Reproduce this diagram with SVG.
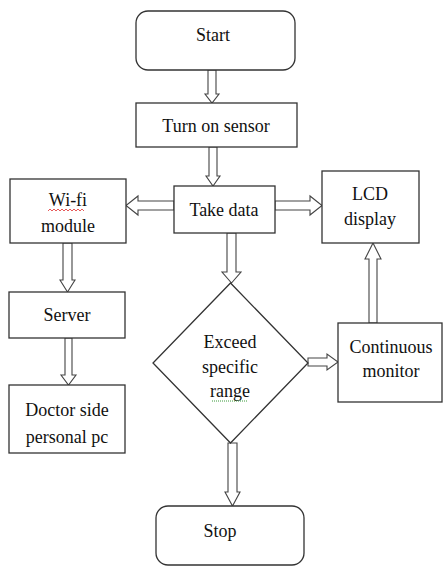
<svg xmlns="http://www.w3.org/2000/svg" width="443" height="566" viewBox="0 0 443 566">
<style>
.box{fill:#fff;stroke:#333;stroke-width:1.3}
.arr{fill:#fff;stroke:#444;stroke-width:1.1;stroke-linejoin:miter}
text{font-family:'Liberation Serif','Times New Roman',Times,serif;font-size:18px;fill:#111;text-anchor:middle}
</style>
<rect width="443" height="566" fill="#fff"/>
<g id="connectors">
<polygon class="arr" points="208,70 216,70 216,94 219,94 212,103 205,94 208,94"/>
<polygon class="arr" points="209,147 217,147 217,176 220,176 213,186 206,176 209,176"/>
<polygon class="arr" points="227,233 236,233 236,272 241,272 231.5,283 222,272 227,272"/>
<polygon class="arr" points="174,201 138,201 138,196 126,205.5 138,215 138,210 174,210"/>
<polygon class="arr" points="275,201 310,201 310,196 322,205.5 310,215 310,210 275,210"/>
<polygon class="arr" points="63,243 72,243 72,280 75,280 67.5,292 60,280 63,280"/>
<polygon class="arr" points="65,338 72,338 72,375 76,375 68.5,385 61,375 65,375"/>
<polygon class="arr" points="308,358 327,358 327,354 338,362 327,370 327,366 308,366"/>
<polygon class="arr" points="369,323 377,323 377,259 381,259 373,243 365,259 369,259"/>
<polygon class="arr" points="228,443 237,443 237,492 240,492 232.5,506 225,492 228,492"/>
</g>
<g id="start">
<rect class="box" x="136" y="11" width="159" height="59" rx="12"/>
<text x="213" y="41">Start</text>
</g>
<g id="turn-on-sensor">
<rect class="box" x="136" y="103" width="161" height="44"/>
<text x="216" y="132">Turn on sensor</text>
</g>
<g id="take-data">
<rect class="box" x="174" y="186" width="101" height="47"/>
<text x="224" y="216">Take data</text>
</g>
<g id="wifi-module">
<rect class="box" x="10" y="179" width="116" height="64"/>
<text x="68" y="206">Wi-fi</text>
<text x="68" y="232">module</text>
<path d="M48,211 l2,-2 l2,2 l2,-2 l2,2 l2,-2 l2,2 l2,-2 l2,2 l2,-2 l2,2 l2,-2 l2,2 l2,-2 l2,2 l2,-2 l2,2 l2,-2 l2,2" fill="none" stroke="#e03030" stroke-width="0.8"/>
</g>
<g id="lcd-display">
<rect class="box" x="322" y="171" width="97" height="72"/>
<text x="370" y="200">LCD</text>
<text x="370" y="225">display</text>
</g>
<g id="server">
<rect class="box" x="9" y="292" width="116" height="46"/>
<text x="67" y="321">Server</text>
</g>
<g id="doctor-pc">
<rect class="box" x="9" y="385" width="116" height="68"/>
<text x="67" y="416">Doctor side</text>
<text x="67" y="443">personal pc</text>
</g>
<g id="exceed-range">
<polygon class="box" points="230.5,283 308,363 230.5,443 153,363"/>
<text x="230" y="348">Exceed</text>
<text x="230" y="373">specific</text>
<text x="230" y="397">range</text>
<path d="M212,401 H248" fill="none" stroke="#3a9a3a" stroke-width="1" stroke-dasharray="1,1"/>
</g>
<g id="continuous-monitor">
<rect class="box" x="338" y="323" width="104" height="79"/>
<text x="391" y="353">Continuous</text>
<text x="391" y="377">monitor</text>
</g>
<g id="stop">
<rect class="box" x="156" y="506" width="148" height="59" rx="12"/>
<text x="220" y="537">Stop</text>
</g>
</svg>
